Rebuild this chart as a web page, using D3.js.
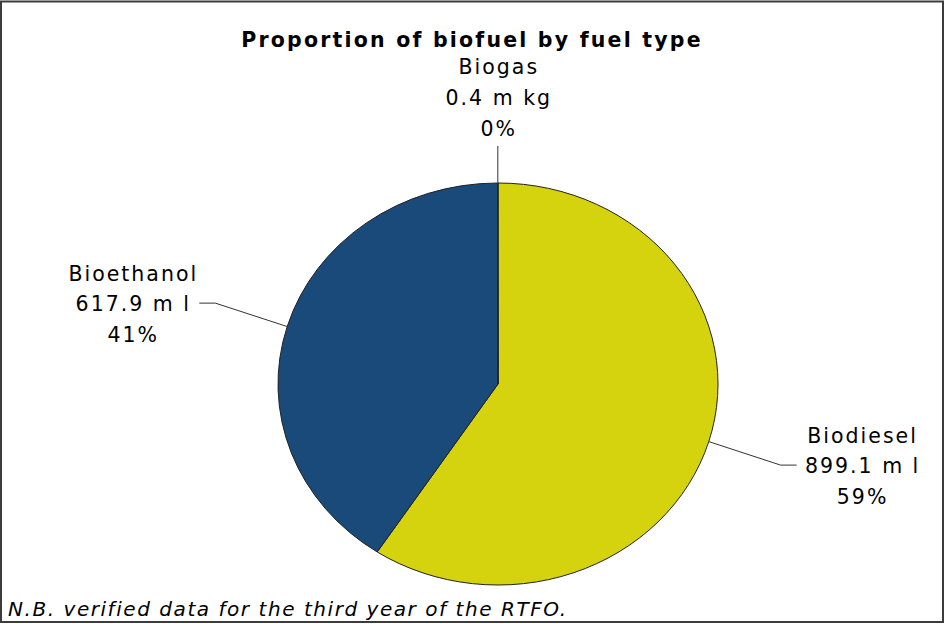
<!DOCTYPE html>
<html>
<head>
<meta charset="utf-8">
<script src="https://cdn.jsdelivr.net/npm/d3@7"></script>
<style>
  body { margin: 0; background: #fff; }
  svg { display: block; font-family: "DejaVu Sans", Verdana, sans-serif; }
</style>
</head>
<body>
<svg id="chart" width="945" height="624"></svg>
<script>
// data
const categories = ["Biodiesel", "Bioethanol", "Biogas"]
const values = [899.1, 617.9, 0.4]
const unitLabels = ["899.1 m l", "617.9 m l", "0.4 m kg"]
const colors = ["#d5d20e", "#194a7a", "#9a9a9a"]

const title = "Proportion of biofuel by fuel type"
const footnote = "N.B. verified data for the third year of the RTFO."

const W = 945, H = 624
const cx = 498, cy = 384
const rx = 220, ry = 201
// ellipse where the leader lines bend
const lrx = 295, lry = 283

const svg = d3.select("#chart")

svg.append("rect")
  .attr("x", 1).attr("y", 1.5)
  .attr("width", 942).attr("height", 620.5)
  .attr("fill", "#fff")
  .attr("stroke", "#3c3c3c")
  .attr("stroke-width", 2)

svg.append("text")
  .attr("x", 472).attr("y", 47)
  .attr("text-anchor", "middle")
  .attr("font-size", 20.5)
  .attr("font-weight", "bold")
  .attr("letter-spacing", 2.2)
  .attr("fill", "#000")
  .text(title)

const total = d3.sum(values)
const pct = d3.format(".0%")

const pie = d3.pie().sort(null).value(d => d)
const arcs = pie(values)

const arc = d3.arc().innerRadius(0).outerRadius(rx)

const g = svg.append("g")
  .attr("transform", `translate(${cx},${cy}) scale(1,${ry / rx})`)

g.selectAll("path")
  .data(arcs)
  .join("path")
    .attr("d", arc)
    .attr("fill", (d, i) => colors[i])
    .attr("stroke", "#222")
    .attr("stroke-width", 1)
    .attr("vector-effect", "non-scaling-stroke")

// labels + leader lines
const labels = svg.append("g")
  .attr("font-size", 20.5)
  .attr("letter-spacing", 2)
  .attr("fill", "#000")

arcs.forEach((d, i) => {
  const a = (d.startAngle + d.endAngle) / 2
  const sx = Math.sin(a), sy = -Math.cos(a)
  const p0 = [cx + rx * sx, cy + ry * sy]
  const lines = [categories[i], unitLabels[i], pct(values[i] / total)]

  if (Math.abs(sx) < 0.2) {
    // near the top: straight line up, text stacked above
    const p1 = [p0[0], 146]
    labels.append("path")
      .attr("d", d3.line()([p0, p1]))
      .attr("stroke", "#333").attr("fill", "none")
    labels.selectAll(null)
      .data(lines)
      .join("text")
        .attr("x", p0[0] + 1)
        .attr("y", (t, k) => 74 + k * 31)
        .attr("text-anchor", "middle")
        .text(t => t)
    return
  }

  const side = sx > 0 ? 1 : -1
  const p1 = [cx + lrx * sx, cy + lry * sy]
  const p2 = [p1[0] + side * 16, p1[1]]
  labels.append("path")
    .attr("d", d3.line()([p0, p1, p2]))
    .attr("stroke", "#333").attr("fill", "none")

  const tx = p2[0] + side * 66
  labels.selectAll(null)
    .data(lines)
    .join("text")
      .attr("x", tx)
      .attr("y", (t, k) => p2[1] + 8 + (k - 1) * 30.5)
      .attr("text-anchor", "middle")
      .text(t => t)
})

svg.append("text")
  .attr("x", 8).attr("y", 616)
  .attr("font-size", 20)
  .attr("font-style", "italic")
  .attr("letter-spacing", 1.55)
  .attr("fill", "#000")
  .text(footnote)
</script>
</body>
</html>
